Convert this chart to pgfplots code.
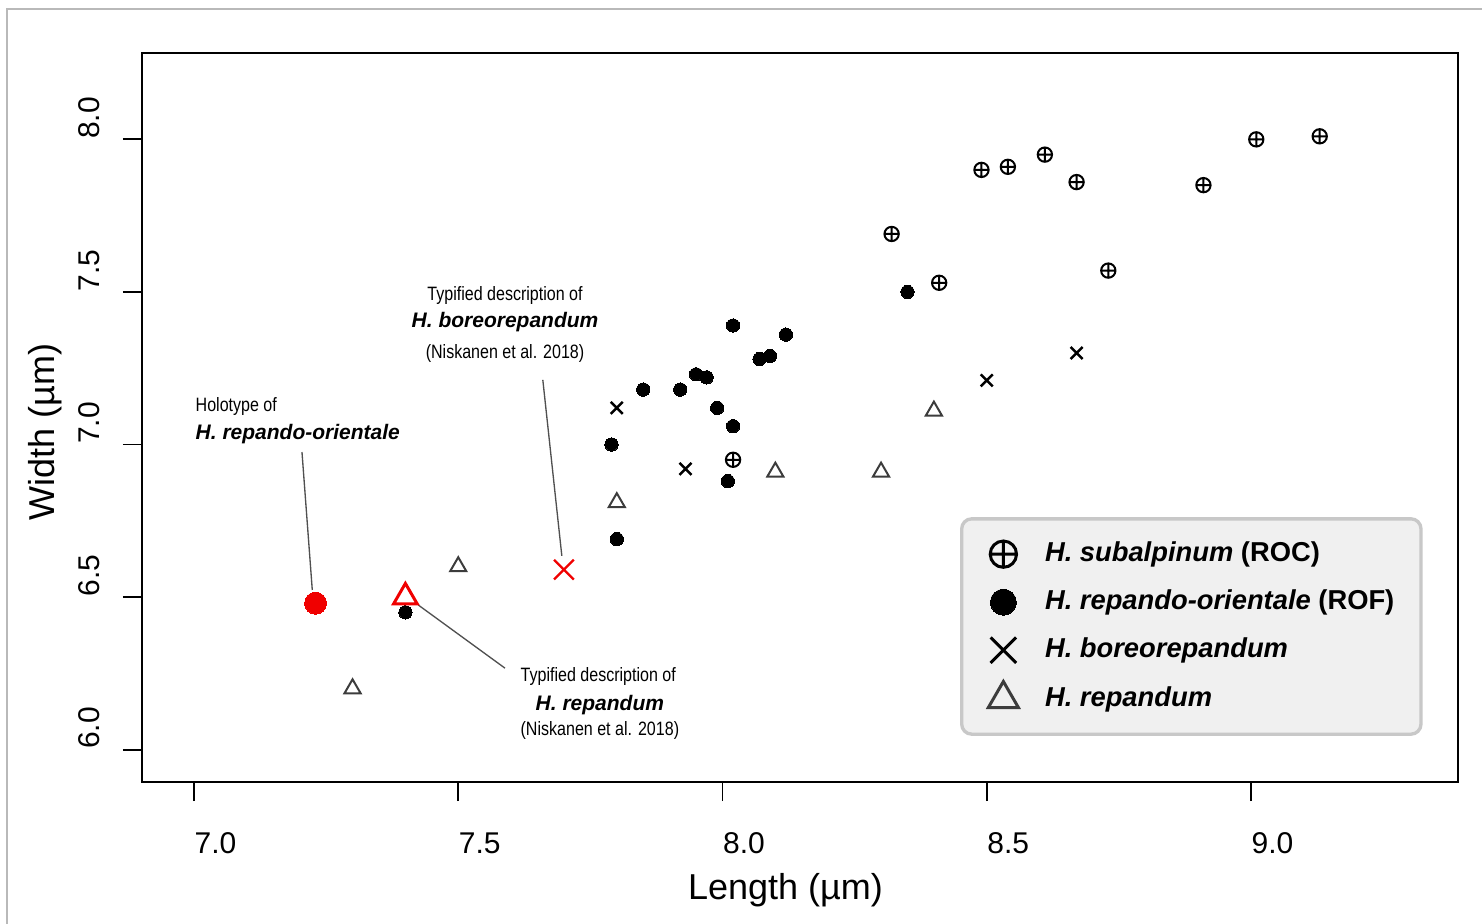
\documentclass[border=0pt]{standalone}
\usepackage{fontspec}
\setmainfont{Liberation Sans}
\newfontfamily\narrowfont[FakeStretch=0.83]{Liberation Sans}
\usepackage{pgfplots}
\pgfplotsset{compat=1.18}

\definecolor{trigray}{RGB}{60,60,60}
\definecolor{leggray}{RGB}{240,240,240}
\definecolor{legborder}{RGB}{200,200,200}
\definecolor{myred}{RGB}{240,0,0}
\definecolor{leadgray}{RGB}{80,80,80}

\begin{document}
\begin{tikzpicture}
\path[use as bounding box] (0pt,0pt) rectangle (444.6pt,276.9pt);
\draw[gray!55, line width=0.5pt] (2.1pt,-10pt) -- (2.1pt,274.2pt) -- (460pt,274.2pt);
\begin{axis}[
  at={(42.6pt,42.3pt)}, anchor=south west,
  scale only axis, width=394.8pt, height=218.7pt,
  xmin=6.9016, xmax=9.3917, ymin=5.894, ymax=8.283,
  axis line style={line width=0.7pt},
  xtick={7,7.5,8,8.5,9}, xticklabels={7.0,7.5,8.0,8.5,9.0},
  ytick={6,6.5,7,7.5,8}, yticklabels={6.0,6.5,7.0,7.5,8.0},
  xtick pos=bottom, ytick pos=left,
  tick align=outside, major tick length=5.7pt,
  tick style={line width=0.55pt, black},
  ticklabel style={font=\fontsize{9}{9}\selectfont},
  xticklabel style={anchor=north west, inner sep=0pt, yshift=-9.3pt},
  yticklabel style={rotate=90, anchor=south west, inner sep=0pt, yshift=6.9pt},
  xlabel={Length (µm)}, ylabel={Width (µm)},
  label style={font=\fontsize{10.8}{11}\selectfont},
  xlabel style={at={(axis description cs:0.489,-0.1480)}, anchor=center},
  ylabel style={at={(axis description cs:-0.0737,0.48)}, anchor=center},
  legend style={
    at={(axis description cs:0.6216,0.3633)}, anchor=north west,
    fill=leggray, draw=legborder, line width=1pt, rounded corners=3pt,
    inner xsep=8.0pt, inner ysep=5.6pt,
    row sep=4.4pt, column sep=0pt,
    font=\fontsize{8.2}{9}\selectfont\bfseries,
    nodes={inner sep=0pt},
  },
  legend cell align=left,
  legend image code/.code={\path[draw=none, fill=none] (0pt,-5pt) rectangle (16.5pt,5pt); \draw[#1] plot coordinates {(4.0pt,0pt)};},
]

% legend images
\addlegendimage{only marks, sharp corners, mark=oplus, mark size=3.95pt, mark options={draw=black, line width=0.9pt, fill=none}}
\addlegendentry{\textit{H. subalpinum} (ROC)}
\addlegendimage{only marks, sharp corners, mark=*, mark size=3.9pt, mark options={draw=black, fill=black, line width=0pt}}
\addlegendentry{\textit{H. repando-orientale} (ROF)}
\addlegendimage{only marks, sharp corners, mark=x, mark size=5.4pt, mark options={draw=black, line width=0.9pt}}
\addlegendentry{\textit{H. boreorepandum}}
\addlegendimage{only marks, sharp corners, mark=triangle, mark size=5.2pt, mark options={draw=trigray, line width=0.9pt, fill=none}}
\addlegendentry{\textit{H. repandum}}

% H. subalpinum (ROC)
\addplot[forget plot, only marks, mark=oplus, mark size=2.15pt, mark options={draw=black, line width=0.6pt, fill=none}] coordinates {
(8.49,7.90) (8.54,7.91) (8.61,7.95) (8.67,7.86) (8.91,7.85) (9.01,8.00)
(9.13,8.01) (8.32,7.69) (8.41,7.53) (8.73,7.57) (8.02,6.95)
};
% H. repando-orientale (ROF)
\addplot[forget plot, only marks, mark=*, mark size=2.0pt, mark options={draw=black, fill=black, line width=0pt}] coordinates {
(8.02,7.39) (8.12,7.36) (8.07,7.28) (8.09,7.29) (7.95,7.23) (7.97,7.22)
(7.85,7.18) (7.92,7.18) (7.99,7.12) (8.02,7.06) (7.79,7.00) (8.01,6.88)
(7.80,6.69) (8.35,7.50) (7.40,6.45)
};
% H. boreorepandum
\addplot[forget plot, only marks, mark=x, mark size=2.55pt, mark options={draw=black, line width=0.75pt}] coordinates {
(7.80,7.12) (7.93,6.92) (8.50,7.21) (8.67,7.30)
};
% H. repandum
\addplot[forget plot, only marks, mark=triangle, mark size=2.8pt, mark options={draw=trigray, line width=0.6pt, fill=none}] coordinates {
(7.80,6.81) (8.10,6.91) (8.30,6.91) (8.40,7.11) (7.50,6.60) (7.30,6.20)
};
% type specimens (red)
\addplot[forget plot, only marks, mark=*, mark size=3.3pt, mark options={draw=myred, fill=myred, line width=0pt}] coordinates {(7.23,6.48)};
\addplot[forget plot, only marks, mark=triangle, mark size=4.1pt, mark options={draw=myred, line width=0.9pt, fill=none}] coordinates {(7.40,6.50)};
\addplot[forget plot, only marks, mark=x, mark size=4.2pt, mark options={draw=myred, line width=0.7pt}] coordinates {(7.70,6.59)};

% leader lines
\draw[leadgray, line width=0.4pt] (axis cs:7.2043,6.9754) -- (axis cs:7.2238,6.5233);
\draw[leadgray, line width=0.4pt] (axis cs:7.660,7.212) -- (axis cs:7.696,6.635);
\draw[leadgray, line width=0.4pt] (axis cs:7.4244,6.474) -- (axis cs:7.5885,6.267);

% annotations
\node[font=\narrowfont\fontsize{5.8}{7}\selectfont, anchor=base west, inner sep=0pt] at (axis cs:7.002,7.1075) {Holotype of};
\node[font=\fontsize{6.3}{7}\selectfont\bfseries\itshape, anchor=base west, inner sep=0pt] at (axis cs:7.002,7.015) {H. repando-orientale};

\node[font=\narrowfont\fontsize{5.8}{7}\selectfont, anchor=base, inner sep=0pt] at (axis cs:7.5885,7.473) {Typified description of};
\node[font=\fontsize{6.3}{7}\selectfont\bfseries\itshape, anchor=base, inner sep=0pt] at (axis cs:7.5885,7.382) {H. boreorepandum};
\node[font=\narrowfont\fontsize{5.8}{7}\selectfont, anchor=base, inner sep=0pt] at (axis cs:7.5885,7.283) {(Niskanen et al. 2018)};

\node[font=\narrowfont\fontsize{5.8}{7}\selectfont, anchor=base, inner sep=0pt] at (axis cs:7.765,6.224) {Typified description of};
\node[font=\fontsize{6.3}{7}\selectfont\bfseries\itshape, anchor=base, inner sep=0pt] at (axis cs:7.768,6.128) {H. repandum};
\node[font=\narrowfont\fontsize{5.8}{7}\selectfont, anchor=base, inner sep=0pt] at (axis cs:7.768,6.046) {(Niskanen et al. 2018)};
\end{axis}
\end{tikzpicture}
\end{document}
